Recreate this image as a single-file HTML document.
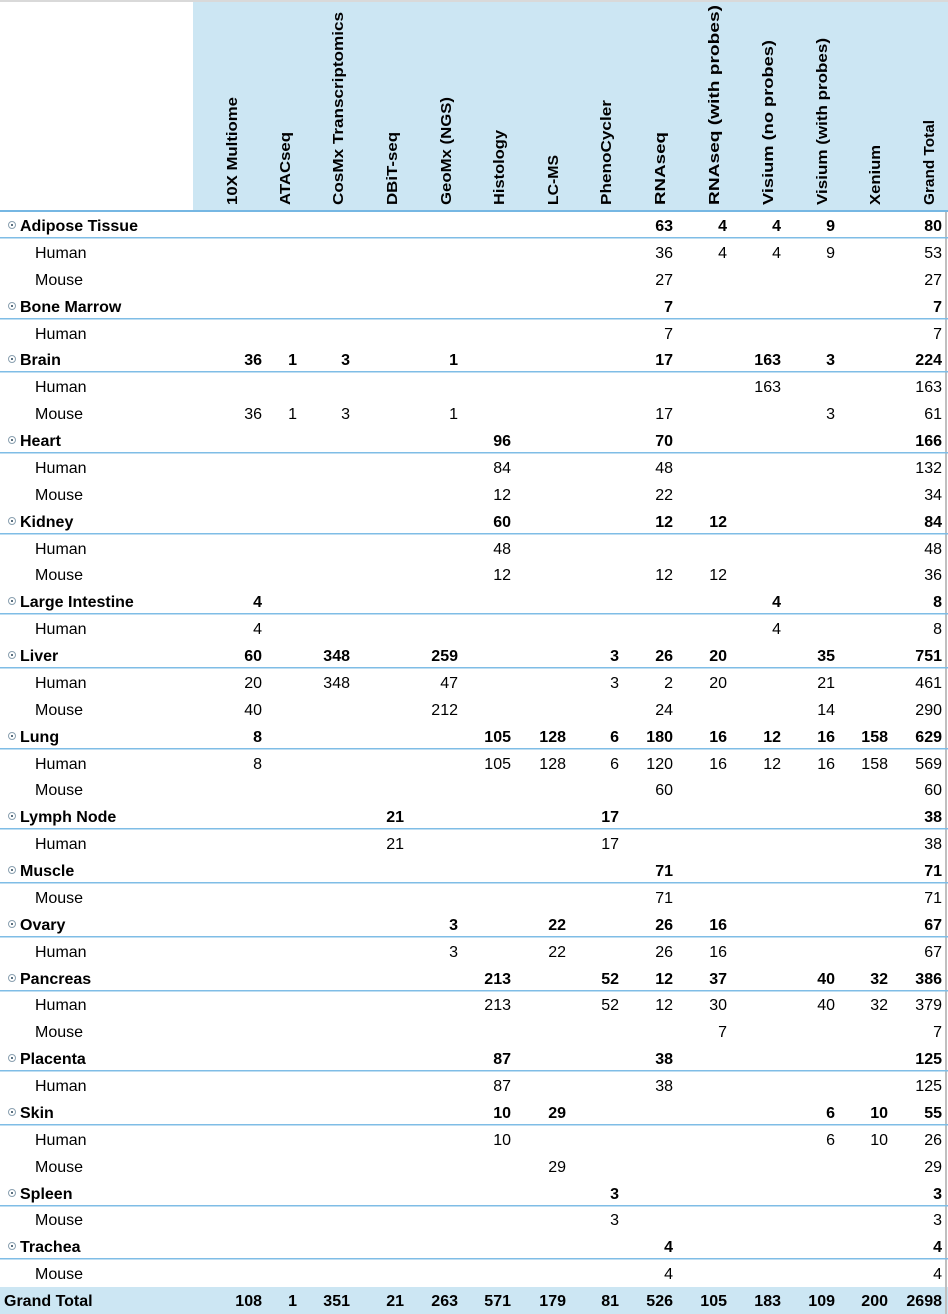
<!DOCTYPE html>
<html><head><meta charset="utf-8"><style>
html,body{margin:0;padding:0;background:#fff;}
svg{display:block;font-family:"Liberation Sans",Arial,sans-serif;}
</style></head><body>
<svg width="948" height="1314" viewBox="0 0 948 1314" xmlns="http://www.w3.org/2000/svg">
<rect x="0" y="0" width="948" height="2" fill="#d9d9d9"/>
<rect x="193" y="2" width="755" height="208" fill="#cce6f3"/>
<rect x="0" y="210" width="948" height="2" fill="#76b7e3"/>
<rect x="0" y="1287" width="948" height="27" fill="#cce6f3"/>
<rect x="945" y="212" width="2" height="1102" fill="#bfbfbf"/>
<g fill="#7fbde6">
<rect x="0" y="237" width="948" height="1.5"/><rect x="0" y="318" width="948" height="1.5"/><rect x="0" y="371" width="948" height="1.5"/><rect x="0" y="452" width="948" height="1.5"/><rect x="0" y="533" width="948" height="1.5"/><rect x="0" y="613" width="948" height="1.5"/><rect x="0" y="667" width="948" height="1.5"/><rect x="0" y="748" width="948" height="1.5"/><rect x="0" y="828" width="948" height="1.5"/><rect x="0" y="882" width="948" height="1.5"/><rect x="0" y="936" width="948" height="1.5"/><rect x="0" y="990" width="948" height="1.5"/><rect x="0" y="1070" width="948" height="1.5"/><rect x="0" y="1124" width="948" height="1.5"/><rect x="0" y="1205" width="948" height="1.5"/><rect x="0" y="1258" width="948" height="1.5"/>
</g>
<g font-weight="bold" font-size="15" fill="#000">
<text transform="translate(237,205) rotate(-90)" textLength="108" lengthAdjust="spacingAndGlyphs">10X Multiome</text>
<text transform="translate(290,205) rotate(-90)" textLength="73" lengthAdjust="spacingAndGlyphs">ATACseq</text>
<text transform="translate(343,205) rotate(-90)" textLength="193" lengthAdjust="spacingAndGlyphs">CosMx Transcriptomics</text>
<text transform="translate(397,205) rotate(-90)" textLength="73" lengthAdjust="spacingAndGlyphs">DBiT-seq</text>
<text transform="translate(451,205) rotate(-90)" textLength="108" lengthAdjust="spacingAndGlyphs">GeoMx (NGS)</text>
<text transform="translate(504,205) rotate(-90)" textLength="75" lengthAdjust="spacingAndGlyphs">Histology</text>
<text transform="translate(558,205) rotate(-90)" textLength="50" lengthAdjust="spacingAndGlyphs">LC-MS</text>
<text transform="translate(611,205) rotate(-90)" textLength="105" lengthAdjust="spacingAndGlyphs">PhenoCycler</text>
<text transform="translate(665,205) rotate(-90)" textLength="73" lengthAdjust="spacingAndGlyphs">RNAseq</text>
<text transform="translate(719,205) rotate(-90)" textLength="200" lengthAdjust="spacingAndGlyphs">RNAseq (with probes)</text>
<text transform="translate(773,205) rotate(-90)" textLength="165" lengthAdjust="spacingAndGlyphs">Visium (no probes)</text>
<text transform="translate(827,205) rotate(-90)" textLength="167" lengthAdjust="spacingAndGlyphs">Visium (with probes)</text>
<text transform="translate(880,205) rotate(-90)" textLength="60" lengthAdjust="spacingAndGlyphs">Xenium</text>
<text transform="translate(934,205) rotate(-90)" textLength="85" lengthAdjust="spacingAndGlyphs">Grand Total</text>
</g>
<g font-size="16" fill="#000">
<!-- group rows bold -->
<g font-weight="bold">
<g transform="translate(0,231)"><text x="20">Adipose Tissue</text><g text-anchor="end"><text x="673">63</text><text x="727">4</text><text x="781">4</text><text x="835">9</text><text x="942">80</text></g></g>
<g transform="translate(0,312)"><text x="20">Bone Marrow</text><g text-anchor="end"><text x="673">7</text><text x="942">7</text></g></g>
<g transform="translate(0,365)"><text x="20">Brain</text><g text-anchor="end"><text x="262">36</text><text x="297">1</text><text x="350">3</text><text x="458">1</text><text x="673">17</text><text x="781">163</text><text x="835">3</text><text x="942">224</text></g></g>
<g transform="translate(0,446)"><text x="20">Heart</text><g text-anchor="end"><text x="511">96</text><text x="673">70</text><text x="942">166</text></g></g>
<g transform="translate(0,527)"><text x="20">Kidney</text><g text-anchor="end"><text x="511">60</text><text x="673">12</text><text x="727">12</text><text x="942">84</text></g></g>
<g transform="translate(0,607)"><text x="20">Large Intestine</text><g text-anchor="end"><text x="262">4</text><text x="781">4</text><text x="942">8</text></g></g>
<g transform="translate(0,661)"><text x="20">Liver</text><g text-anchor="end"><text x="262">60</text><text x="350">348</text><text x="458">259</text><text x="619">3</text><text x="673">26</text><text x="727">20</text><text x="835">35</text><text x="942">751</text></g></g>
<g transform="translate(0,742)"><text x="20">Lung</text><g text-anchor="end"><text x="262">8</text><text x="511">105</text><text x="566">128</text><text x="619">6</text><text x="673">180</text><text x="727">16</text><text x="781">12</text><text x="835">16</text><text x="888">158</text><text x="942">629</text></g></g>
<g transform="translate(0,822)"><text x="20">Lymph Node</text><g text-anchor="end"><text x="404">21</text><text x="619">17</text><text x="942">38</text></g></g>
<g transform="translate(0,876)"><text x="20">Muscle</text><g text-anchor="end"><text x="673">71</text><text x="942">71</text></g></g>
<g transform="translate(0,930)"><text x="20">Ovary</text><g text-anchor="end"><text x="458">3</text><text x="566">22</text><text x="673">26</text><text x="727">16</text><text x="942">67</text></g></g>
<g transform="translate(0,984)"><text x="20">Pancreas</text><g text-anchor="end"><text x="511">213</text><text x="619">52</text><text x="673">12</text><text x="727">37</text><text x="835">40</text><text x="888">32</text><text x="942">386</text></g></g>
<g transform="translate(0,1064)"><text x="20">Placenta</text><g text-anchor="end"><text x="511">87</text><text x="673">38</text><text x="942">125</text></g></g>
<g transform="translate(0,1118)"><text x="20">Skin</text><g text-anchor="end"><text x="511">10</text><text x="566">29</text><text x="835">6</text><text x="888">10</text><text x="942">55</text></g></g>
<g transform="translate(0,1199)"><text x="20">Spleen</text><g text-anchor="end"><text x="619">3</text><text x="942">3</text></g></g>
<g transform="translate(0,1252)"><text x="20">Trachea</text><g text-anchor="end"><text x="673">4</text><text x="942">4</text></g></g>
<g transform="translate(0,1306)"><text x="4">Grand Total</text><g text-anchor="end"><text x="262">108</text><text x="297">1</text><text x="350">351</text><text x="404">21</text><text x="458">263</text><text x="511">571</text><text x="566">179</text><text x="619">81</text><text x="673">526</text><text x="727">105</text><text x="781">183</text><text x="835">109</text><text x="888">200</text><text x="942">2698</text></g></g>
</g>
<!-- sub rows -->
<g transform="translate(0,258)"><text x="35">Human</text><g text-anchor="end"><text x="673">36</text><text x="727">4</text><text x="781">4</text><text x="835">9</text><text x="942">53</text></g></g>
<g transform="translate(0,285)"><text x="35">Mouse</text><g text-anchor="end"><text x="673">27</text><text x="942">27</text></g></g>
<g transform="translate(0,339)"><text x="35">Human</text><g text-anchor="end"><text x="673">7</text><text x="942">7</text></g></g>
<g transform="translate(0,392)"><text x="35">Human</text><g text-anchor="end"><text x="781">163</text><text x="942">163</text></g></g>
<g transform="translate(0,419)"><text x="35">Mouse</text><g text-anchor="end"><text x="262">36</text><text x="297">1</text><text x="350">3</text><text x="458">1</text><text x="673">17</text><text x="835">3</text><text x="942">61</text></g></g>
<g transform="translate(0,473)"><text x="35">Human</text><g text-anchor="end"><text x="511">84</text><text x="673">48</text><text x="942">132</text></g></g>
<g transform="translate(0,500)"><text x="35">Mouse</text><g text-anchor="end"><text x="511">12</text><text x="673">22</text><text x="942">34</text></g></g>
<g transform="translate(0,554)"><text x="35">Human</text><g text-anchor="end"><text x="511">48</text><text x="942">48</text></g></g>
<g transform="translate(0,580)"><text x="35">Mouse</text><g text-anchor="end"><text x="511">12</text><text x="673">12</text><text x="727">12</text><text x="942">36</text></g></g>
<g transform="translate(0,634)"><text x="35">Human</text><g text-anchor="end"><text x="262">4</text><text x="781">4</text><text x="942">8</text></g></g>
<g transform="translate(0,688)"><text x="35">Human</text><g text-anchor="end"><text x="262">20</text><text x="350">348</text><text x="458">47</text><text x="619">3</text><text x="673">2</text><text x="727">20</text><text x="835">21</text><text x="942">461</text></g></g>
<g transform="translate(0,715)"><text x="35">Mouse</text><g text-anchor="end"><text x="262">40</text><text x="458">212</text><text x="673">24</text><text x="835">14</text><text x="942">290</text></g></g>
<g transform="translate(0,769)"><text x="35">Human</text><g text-anchor="end"><text x="262">8</text><text x="511">105</text><text x="566">128</text><text x="619">6</text><text x="673">120</text><text x="727">16</text><text x="781">12</text><text x="835">16</text><text x="888">158</text><text x="942">569</text></g></g>
<g transform="translate(0,795)"><text x="35">Mouse</text><g text-anchor="end"><text x="673">60</text><text x="942">60</text></g></g>
<g transform="translate(0,849)"><text x="35">Human</text><g text-anchor="end"><text x="404">21</text><text x="619">17</text><text x="942">38</text></g></g>
<g transform="translate(0,903)"><text x="35">Mouse</text><g text-anchor="end"><text x="673">71</text><text x="942">71</text></g></g>
<g transform="translate(0,957)"><text x="35">Human</text><g text-anchor="end"><text x="458">3</text><text x="566">22</text><text x="673">26</text><text x="727">16</text><text x="942">67</text></g></g>
<g transform="translate(0,1010)"><text x="35">Human</text><g text-anchor="end"><text x="511">213</text><text x="619">52</text><text x="673">12</text><text x="727">30</text><text x="835">40</text><text x="888">32</text><text x="942">379</text></g></g>
<g transform="translate(0,1037)"><text x="35">Mouse</text><g text-anchor="end"><text x="727">7</text><text x="942">7</text></g></g>
<g transform="translate(0,1091)"><text x="35">Human</text><g text-anchor="end"><text x="511">87</text><text x="673">38</text><text x="942">125</text></g></g>
<g transform="translate(0,1145)"><text x="35">Human</text><g text-anchor="end"><text x="511">10</text><text x="835">6</text><text x="888">10</text><text x="942">26</text></g></g>
<g transform="translate(0,1172)"><text x="35">Mouse</text><g text-anchor="end"><text x="566">29</text><text x="942">29</text></g></g>
<g transform="translate(0,1225)"><text x="35">Mouse</text><g text-anchor="end"><text x="619">3</text><text x="942">3</text></g></g>
<g transform="translate(0,1279)"><text x="35">Mouse</text><g text-anchor="end"><text x="673">4</text><text x="942">4</text></g></g>
</g>
<!-- expand icons -->
<g fill="none" stroke="#8aa0b0" stroke-width="1">
<circle cx="12" cy="225" r="3.5"/><circle cx="12" cy="306" r="3.5"/><circle cx="12" cy="359" r="3.5"/><circle cx="12" cy="440" r="3.5"/><circle cx="12" cy="521" r="3.5"/><circle cx="12" cy="601" r="3.5"/><circle cx="12" cy="655" r="3.5"/><circle cx="12" cy="736" r="3.5"/><circle cx="12" cy="816" r="3.5"/><circle cx="12" cy="870" r="3.5"/><circle cx="12" cy="924" r="3.5"/><circle cx="12" cy="978" r="3.5"/><circle cx="12" cy="1058" r="3.5"/><circle cx="12" cy="1112" r="3.5"/><circle cx="12" cy="1193" r="3.5"/><circle cx="12" cy="1246" r="3.5"/>
</g>
<g fill="#5a7080">
<rect x="11" y="224" width="2" height="2"/><rect x="11" y="305" width="2" height="2"/><rect x="11" y="358" width="2" height="2"/><rect x="11" y="439" width="2" height="2"/><rect x="11" y="520" width="2" height="2"/><rect x="11" y="600" width="2" height="2"/><rect x="11" y="654" width="2" height="2"/><rect x="11" y="735" width="2" height="2"/><rect x="11" y="815" width="2" height="2"/><rect x="11" y="869" width="2" height="2"/><rect x="11" y="923" width="2" height="2"/><rect x="11" y="977" width="2" height="2"/><rect x="11" y="1057" width="2" height="2"/><rect x="11" y="1111" width="2" height="2"/><rect x="11" y="1192" width="2" height="2"/><rect x="11" y="1245" width="2" height="2"/>
</g>
</svg>
</body></html>
